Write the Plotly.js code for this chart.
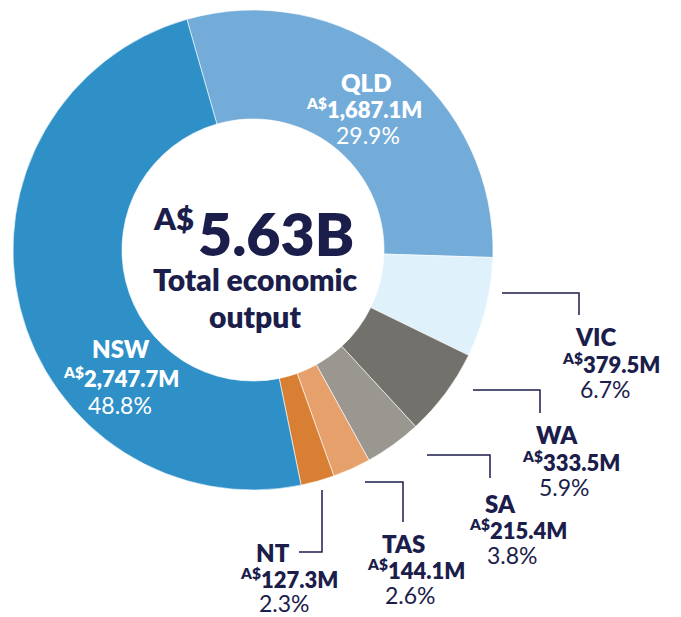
<!DOCTYPE html>
<html>
<head>
<meta charset="utf-8">
<script src="https://cdn.plot.ly/plotly-3.0.1.min.js"></script>
<style>
  html, body { margin: 0; padding: 0; background: #ffffff; }
  #chart { width: 681px; height: 617px; }
</style>
</head>
<body>
<div id="chart"></div>
<script>
// ---- Data ----
const regions = ['QLD', 'VIC', 'WA', 'SA', 'TAS', 'NT', 'NSW'];
const outputMillions = [1687.1, 379.5, 333.5, 215.4, 144.1, 127.3, 2747.7];
const sharePercent = [29.9, 6.7, 5.9, 3.8, 2.6, 2.3, 48.8];
const totalValue = '5.63B';
const currencyPrefix = 'A$';
const centerCaption = ['Total economic', 'output'];

// ---- Styling ----
const sliceColors = ['#74acd9', '#dff2fb', '#73716b', '#9a9690', '#e5a06b', '#d97f33', '#2e90c7'];
const navy = '#1b1d4b';
const W = 681, H = 617;
const px = x => x / W;
const py = y => 1 - y / H;

// label layout: per-line centre x and baseline y (pixels), text colour
const labelLayout = {
  QLD: { cx: [366, 364, 368], base: [91, 116, 143], color: '#ffffff' },
  NSW: { cx: [121, 121, 120], base: [357, 385, 413], color: '#ffffff' },
  VIC: { cx: [596, 611, 605], base: [345, 371, 397], color: navy },
  WA:  { cx: [557, 571, 564], base: [443, 469, 495], color: navy },
  SA:  { cx: [500, 518, 512], base: [512, 537, 563], color: navy },
  TAS: { cx: [403, 416, 410], base: [552, 577, 603], color: navy },
  NT:  { cx: [273, 289, 284], base: [561, 586, 611], color: navy }
};

// leader lines (pixel paths)
const leaders = [
  [[502, 293], [579, 293], [579, 315]],
  [[473, 390], [540, 390], [540, 413]],
  [[427, 455], [490, 455], [490, 478]],
  [[365, 482], [403, 482], [403, 522]],
  [[322, 490], [322, 552], [299, 552]]
];

const FONT = 'Lato, "Open Sans", sans-serif';
const annotations = [];

function addText(text, x, baseline, size, color, weight, xanchor) {
  annotations.push({
    text: text,
    x: px(x), y: py(baseline - 0.36 * size),
    xref: 'paper', yref: 'paper',
    xanchor: xanchor || 'center', yanchor: 'middle',
    showarrow: false,
    borderpad: 0,
    font: { family: FONT, size: size, color: color, weight: weight }
  });
}

regions.forEach((r, i) => {
  const L = labelLayout[r];
  const amt = outputMillions[i].toLocaleString('en-US', { minimumFractionDigits: 1, maximumFractionDigits: 1 });
  addText(r, L.cx[0], L.base[0], 24, L.color, 800);
  addText('<sup>' + currencyPrefix + '</sup>' + amt + 'M', L.cx[1], L.base[1], 22, L.color, 800);
  addText(sharePercent[i].toFixed(1) + '%', L.cx[2], L.base[2], 23, L.color, 400);
});

// centre text
addText(currencyPrefix, 195, 229, 31, navy, 800, 'right');
addText(totalValue, 197, 255, 59, navy, 800, 'left');
addText(centerCaption[0], 255, 290, 30, navy, 800);
addText(centerCaption[1], 255, 327, 30, navy, 800);

const shapes = leaders.map(pts => ({
  type: 'path',
  xref: 'paper', yref: 'paper',
  path: pts.map((p, k) => (k === 0 ? 'M' : 'L') + px(p[0]) + ',' + py(p[1])).join(' '),
  line: { color: navy, width: 1.5 }
}));

const trace = {
  type: 'pie',
  labels: regions,
  values: outputMillions,
  hole: 0.546,
  sort: false,
  direction: 'clockwise',
  rotation: -16,
  textinfo: 'none',
  hoverinfo: 'skip',
  marker: { colors: sliceColors, line: { color: '#ffffff', width: 0.6 } },
  domain: { x: [px(13), px(493)], y: [py(490), py(10)] }
};

const layout = {
  width: W, height: H,
  margin: { l: 0, r: 0, t: 0, b: 0 },
  paper_bgcolor: '#ffffff',
  showlegend: false,
  annotations: annotations,
  shapes: shapes,
  font: { family: FONT }
};

Plotly.newPlot('chart', [trace], layout, { displayModeBar: false, staticPlot: true });
</script>
</body>
</html>
